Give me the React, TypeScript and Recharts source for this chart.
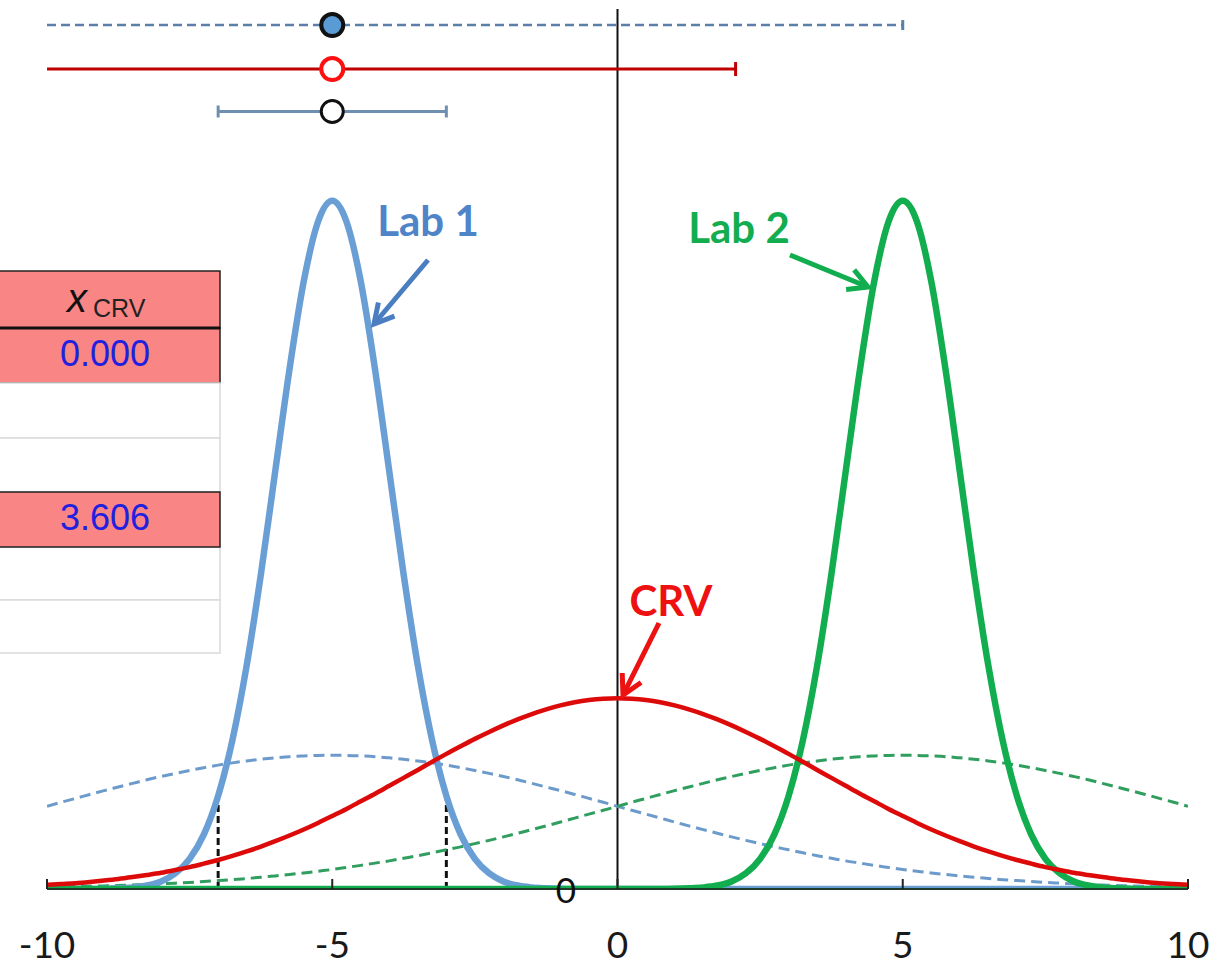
import React from 'react';
import { ComposedChart, Line, XAxis, YAxis, ReferenceLine, ReferenceDot } from 'recharts';

// x positions (categories) of the sampled curves
const xValues = [
  -10, -9.75, -9.5, -9.25, -9, -8.75, -8.5, -8.25, -8, -7.75, -7.5, -7.25, -7, -6.75, -6.5, -6.25, -6, -5.75, -5.5, -5.25,
  -5, -4.75, -4.5, -4.25, -4, -3.75, -3.5, -3.25, -3, -2.75, -2.5, -2.25, -2, -1.75, -1.5, -1.25, -1, -0.75, -0.5, -0.25,
  0, 0.25, 0.5, 0.75, 1, 1.25, 1.5, 1.75, 2, 2.25, 2.5, 2.75, 3, 3.25, 3.5, 3.75, 4, 4.25, 4.5, 4.75,
  5, 5.25, 5.5, 5.75, 6, 6.25, 6.5, 6.75, 7, 7.25, 7.5, 7.75, 8, 8.25, 8.5, 8.75, 9, 9.25, 9.5, 9.75, 10,
];

const lab1 = [
  0, 0, 0, 0, 0.0001, 0.0004, 0.0009, 0.002, 0.0044, 0.0091, 0.0175, 0.0317, 0.054, 0.0863, 0.1295, 0.1826, 0.242, 0.3011, 0.3521, 0.3867,
  0.3989, 0.3867, 0.3521, 0.3011, 0.242, 0.1826, 0.1295, 0.0863, 0.054, 0.0317, 0.0175, 0.0091, 0.0044, 0.002, 0.0009, 0.0004, 0.0001, 0, 0, 0,
  0, 0, 0, 0, 0, 0, 0, 0, 0, 0, 0, 0, 0, 0, 0, 0, 0, 0, 0, 0,
  0, 0, 0, 0, 0, 0, 0, 0, 0, 0, 0, 0, 0, 0, 0, 0, 0, 0, 0, 0, 0,
];

const lab2 = [
  0, 0, 0, 0, 0, 0, 0, 0, 0, 0, 0, 0, 0, 0, 0, 0, 0, 0, 0, 0,
  0, 0, 0, 0, 0, 0, 0, 0, 0, 0, 0, 0, 0, 0, 0, 0, 0, 0, 0, 0,
  0, 0, 0, 0, 0.0001, 0.0004, 0.0009, 0.002, 0.0044, 0.0091, 0.0175, 0.0317, 0.054, 0.0863, 0.1295, 0.1826, 0.242, 0.3011, 0.3521, 0.3867,
  0.3989, 0.3867, 0.3521, 0.3011, 0.242, 0.1826, 0.1295, 0.0863, 0.054, 0.0317, 0.0175, 0.0091, 0.0044, 0.002, 0.0009, 0.0004, 0.0001, 0, 0, 0, 0,
];

const crv = [
  0.0024, 0.0029, 0.0034, 0.0041, 0.0049, 0.0058, 0.0069, 0.0081, 0.0094, 0.011, 0.0127, 0.0147, 0.0168, 0.0192, 0.0218, 0.0246, 0.0277, 0.031, 0.0345, 0.0383,
  0.0423, 0.0464, 0.0508, 0.0552, 0.0598, 0.0644, 0.069, 0.0737, 0.0783, 0.0827, 0.087, 0.091, 0.0948, 0.0983, 0.1014, 0.1041, 0.1064, 0.1082, 0.1095, 0.1103,
  0.1106, 0.1103, 0.1095, 0.1082, 0.1064, 0.1041, 0.1014, 0.0983, 0.0948, 0.091, 0.087, 0.0827, 0.0783, 0.0737, 0.069, 0.0644, 0.0598, 0.0552, 0.0508, 0.0464,
  0.0423, 0.0383, 0.0345, 0.031, 0.0277, 0.0246, 0.0218, 0.0192, 0.0168, 0.0147, 0.0127, 0.011, 0.0094, 0.0081, 0.0069, 0.0058, 0.0049, 0.0041, 0.0034, 0.0029, 0.0024,
];

const lab1Wide = [
  0.0479, 0.0503, 0.0525, 0.0548, 0.057, 0.0591, 0.0612, 0.0633, 0.0652, 0.067, 0.0687, 0.0703, 0.0718, 0.0731, 0.0742, 0.0752, 0.076, 0.0767, 0.0771, 0.0774,
  0.0775, 0.0774, 0.0771, 0.0767, 0.076, 0.0752, 0.0742, 0.0731, 0.0718, 0.0703, 0.0687, 0.067, 0.0652, 0.0633, 0.0612, 0.0591, 0.057, 0.0548, 0.0525, 0.0503,
  0.0479, 0.0456, 0.0434, 0.0411, 0.0388, 0.0366, 0.0344, 0.0323, 0.0302, 0.0282, 0.0263, 0.0244, 0.0227, 0.021, 0.0193, 0.0178, 0.0163, 0.015, 0.0137, 0.0125,
  0.0113, 0.0103, 0.0093, 0.0084, 0.0076, 0.0068, 0.0061, 0.0054, 0.0049, 0.0043, 0.0038, 0.0034, 0.003, 0.0026, 0.0023, 0.002, 0.0018, 0.0016, 0.0014, 0.0012, 0.001,
];

const lab2Wide = [
  0.001, 0.0012, 0.0014, 0.0016, 0.0018, 0.002, 0.0023, 0.0026, 0.003, 0.0034, 0.0038, 0.0043, 0.0049, 0.0054, 0.0061, 0.0068, 0.0076, 0.0084, 0.0093, 0.0103,
  0.0113, 0.0125, 0.0137, 0.015, 0.0163, 0.0178, 0.0193, 0.021, 0.0227, 0.0244, 0.0263, 0.0282, 0.0302, 0.0323, 0.0344, 0.0366, 0.0388, 0.0411, 0.0434, 0.0456,
  0.0479, 0.0503, 0.0525, 0.0548, 0.057, 0.0591, 0.0612, 0.0633, 0.0652, 0.067, 0.0687, 0.0703, 0.0718, 0.0731, 0.0742, 0.0752, 0.076, 0.0767, 0.0771, 0.0774,
  0.0775, 0.0774, 0.0771, 0.0767, 0.076, 0.0752, 0.0742, 0.0731, 0.0718, 0.0703, 0.0687, 0.067, 0.0652, 0.0633, 0.0612, 0.0591, 0.057, 0.0548, 0.0525, 0.0503, 0.0479,
];

const xTicks = [-10, -5, 0, 5, 10];

// interval rows at the top: centre, low end, high end, height level
const rowCenters = [-5, -5, -5];
const rowLow = [-15, -12.07, -7];
const rowHigh = [5, 2.07, -3];
const rowLevels = [0.5007, 0.4752, 0.4506];

// dashed markers under Lab 1 at +-2 sigma
const markerX = [-7, -3];

// table values
const tableHeader = 'CRV';
const tableValues = ['0.000', '3.606'];

const X_MIN = -10;
const X_MAX = 10;

const rows = xValues.map((x, i) => ({
  x,
  lab1: lab1[i],
  lab2: lab2[i],
  crv: crv[i],
  lab1Wide: lab1Wide[i],
  lab2Wide: lab2Wide[i],
}));

const rowStyles = [
  { line: '#5A7FA8', dash: '9 5', width: 2.5, cap: 5, fill: '#5B9BD5', stroke: '#111111', sw: 4 },
  { line: '#C00000', dash: undefined, width: 3, cap: 7, fill: '#FFFFFF', stroke: '#FF1010', sw: 4 },
  { line: '#6E8FB0', dash: undefined, width: 3, cap: 6, fill: '#FFFFFF', stroke: '#111111', sw: 3 },
];

const TickLabel = (props: any) => {
  const { x, payload } = props;
  return (
    <text x={x} y={958} textAnchor="middle" fontFamily="Lato, 'Open Sans', sans-serif" fontSize={37} fill="#1a1a1a">
      {payload.value}
    </text>
  );
};

const Arrow = ({ x1, y1, x2, y2, color }: any) => {
  const ang = Math.atan2(y2 - y1, x2 - x1);
  const len = 22;
  const spread = 0.5;
  const ax = x2 - len * Math.cos(ang - spread);
  const ay = y2 - len * Math.sin(ang - spread);
  const bx = x2 - len * Math.cos(ang + spread);
  const by = y2 - len * Math.sin(ang + spread);
  return (
    <g>
      <line x1={x1} y1={y1} x2={x2} y2={y2} stroke={color} strokeWidth={5} strokeLinecap="butt" />
      <polyline points={`${ax},${ay} ${x2},${y2} ${bx},${by}`} fill="none" stroke={color} strokeWidth={5} strokeLinejoin="miter" />
    </g>
  );
};

export default function App() {
  const lab1At = (x: number) => lab1[xValues.indexOf(x)];
  return (
    <div style={{ position: 'absolute', left: 0, top: 0, width: 1226, height: 967, background: '#fff' }}>
      <ComposedChart width={1226} height={967} data={rows} margin={{ top: 9, right: 38, left: 47, bottom: 18 }}>
        <XAxis
          type="number"
          dataKey="x"
          domain={[X_MIN, X_MAX]}
          ticks={xTicks}
          allowDataOverflow
          height={60}
          axisLine={{ stroke: '#1f3b2a', strokeWidth: 2 }}
          tickLine={{ stroke: '#222', strokeWidth: 2 }}
          tickSize={-10}
          tick={<TickLabel />}
        />
        <YAxis type="number" domain={[0, 0.51]} allowDataOverflow hide />
        <ReferenceLine x={0} stroke="#111" strokeWidth={2} />
        {markerX.map((mx) => (
          <ReferenceLine
            key={`m${mx}`}
            segment={[{ x: mx, y: 0 }, { x: mx, y: lab1At(mx) }]}
            stroke="#111"
            strokeWidth={3}
            strokeDasharray="7 4"
          />
        ))}
        <Line type="monotone" dataKey="lab1Wide" stroke="#6C9BCB" strokeWidth={3} strokeDasharray="11 6" dot={false} isAnimationActive={false} />
        <Line type="monotone" dataKey="lab2Wide" stroke="#2F9E5E" strokeWidth={3} strokeDasharray="11 6" dot={false} isAnimationActive={false} />
        <Line type="monotone" dataKey="lab1" stroke="#6A9FD6" strokeWidth={6.5} dot={false} isAnimationActive={false} />
        <Line type="monotone" dataKey="lab2" stroke="#12AD4F" strokeWidth={6.5} dot={false} isAnimationActive={false} />
        <Line type="monotone" dataKey="crv" stroke="#DD0A0A" strokeWidth={4.5} dot={false} isAnimationActive={false} />
        {rowLevels.map((lvl, i) => {
          const st = rowStyles[i];
          const lo = Math.max(rowLow[i], X_MIN);
          const hi = Math.min(rowHigh[i], X_MAX);
          const seg = [
            { x: lo, y: lvl, raw: rowLow[i] },
            { x: hi, y: lvl, raw: rowHigh[i] },
          ];
          return (
            <Line
              key={`row${i}`}
              data={seg}
              dataKey="y"
              type="linear"
              stroke={st.line}
              strokeWidth={st.width}
              strokeDasharray={st.dash}
              isAnimationActive={false}
              dot={(p: any) =>
                p.payload.raw === p.payload.x ? (
                  <line key={`c${i}-${p.index}`} x1={p.cx} x2={p.cx} y1={p.cy - st.cap} y2={p.cy + st.cap} stroke={st.line} strokeWidth={3} />
                ) : (
                  <g key={`c${i}-${p.index}`} />
                )
              }
            />
          );
        })}
        {rowLevels.map((lvl, i) => (
          <ReferenceDot
            key={`d${i}`}
            x={rowCenters[i]}
            y={lvl}
            r={11}
            fill={rowStyles[i].fill}
            stroke={rowStyles[i].stroke}
            strokeWidth={rowStyles[i].sw}
          />
        ))}
      </ComposedChart>
      <svg width={1226} height={967} style={{ position: 'absolute', left: 0, top: 0, pointerEvents: 'none' }}>
        {/* table */}
        <g>
          <rect x={-2} y={271} width={222} height={57} fill="#F98585" stroke="#222" strokeWidth={1.5} />
          <rect x={-2} y={328} width={222} height={55} fill="#F98585" stroke="#222" strokeWidth={1.5} />
          <line x1={0} x2={220} y1={328} y2={328} stroke="#111" strokeWidth={3} />
          <rect x={-2} y={383} width={222} height={55} fill="#fff" stroke="#DADADA" strokeWidth={1.5} />
          <rect x={-2} y={438} width={222} height={54} fill="#fff" stroke="#DADADA" strokeWidth={1.5} />
          <rect x={-2} y={547} width={222} height={53} fill="#fff" stroke="#DADADA" strokeWidth={1.5} />
          <rect x={-2} y={600} width={222} height={53} fill="#fff" stroke="#DADADA" strokeWidth={1.5} />
          <rect x={-2} y={492} width={222} height={55} fill="#F98585" stroke="#222" strokeWidth={1.5} />
          <text x={67} y={312} fontFamily="'Liberation Sans', Arial, sans-serif" fontSize={40} fontStyle="italic" fill="#111">x</text>
          <text x={93} y={317} fontFamily="'Liberation Sans', Arial, sans-serif" fontSize={25} fill="#222">{tableHeader}</text>
          <text x={105} y={366} textAnchor="middle" fontFamily="'Liberation Sans', Arial, sans-serif" fontSize={36} fill="#2020E0">{tableValues[0]}</text>
          <text x={105} y={530} textAnchor="middle" fontFamily="'Liberation Sans', Arial, sans-serif" fontSize={36} fill="#2020E0">{tableValues[1]}</text>
        </g>
        {/* y-axis zero label */}
        <text x={566} y={903} textAnchor="middle" fontFamily="Lato, 'Open Sans', sans-serif" fontSize={35} fill="#111">0</text>
        {/* annotations */}
        <text x={428} y={236} textAnchor="middle" fontFamily="Lato, 'Open Sans', sans-serif" fontWeight={700} fontSize={42} fill="#4F84C8">Lab 1</text>
        <Arrow x1={428} y1={260} x2={374} y2={324} color="#4A7EC0" />
        <text x={739} y={243} textAnchor="middle" fontFamily="Lato, 'Open Sans', sans-serif" fontWeight={700} fontSize={42} fill="#12AD4F">Lab 2</text>
        <Arrow x1={790} y1={255} x2={868} y2={287} color="#12AD4F" />
        <text x={671} y={616} textAnchor="middle" fontFamily="Lato, 'Open Sans', sans-serif" fontWeight={700} fontSize={42} fill="#EE1111">CRV</text>
        <Arrow x1={659} y1={623} x2={623} y2={695} color="#EE1111" />
      </svg>
    </div>
  );
}
